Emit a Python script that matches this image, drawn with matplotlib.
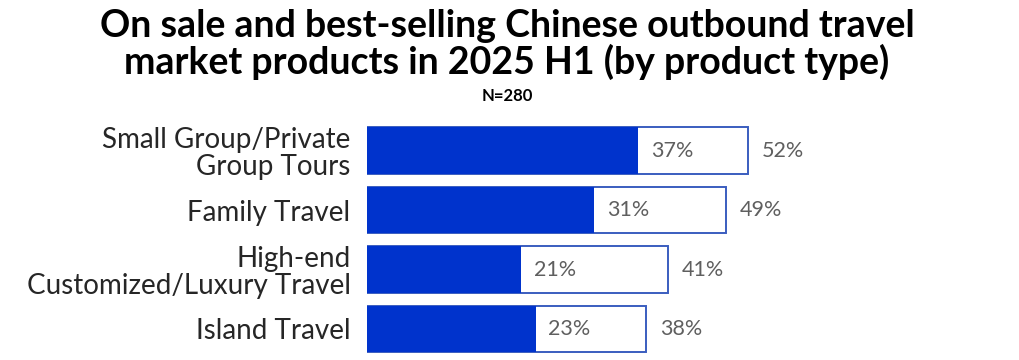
import matplotlib
matplotlib.use("Agg")
import matplotlib.pyplot as plt

categories = ["Small Group/Private\nGroup Tours", "Family Travel",
              "High-end\nCustomized/Luxury Travel", "Island Travel"]
on_sale = [52, 49, 41, 38]
best_selling = [37, 31, 21, 23]

plt.rcParams['font.family'] = ['Lato', 'DejaVu Sans']

fig = plt.figure(figsize=(10.2, 3.6), dpi=100)
ax = fig.add_axes([0.36, 0.0035, 0.61, 0.661])

y = list(range(len(categories)))
ax.barh(y, on_sale, height=0.78, color="white", edgecolor="#3A5DBF", linewidth=1.4)
ax.barh(y, best_selling, height=0.78, color="#0033CC", edgecolor="none")

for yi, s, b in zip(y, on_sale, best_selling):
    ax.text(b + 1.7, yi, f"{b}%", va="center", ha="left", fontsize=15.5, color="#5f5f5f")
    ax.text(s + 1.9, yi, f"{s}%", va="center", ha="left", fontsize=15.5, color="#5f5f5f")

ax.set_xlim(0, 84.9)
ax.set_ylim(len(categories) - 0.5, -0.5)
ax.set_yticks(y)
ax.set_yticklabels(categories, fontsize=20, color="#262626", linespacing=1.05)
ax.tick_params(axis="y", length=0, pad=12)
ax.set_xticks([])
for sp in ax.spines.values():
    sp.set_visible(False)

fig.text(0.497, 1 - 9 / 360, "On sale and best-selling Chinese outbound travel\nmarket products in 2025 H1 (by product type)",
         ha="center", va="top", fontsize=27, fontweight="bold", color="black", linespacing=1.03)
fig.text(0.497, 0.733, "N=280", ha="center", va="center", fontsize=12, fontweight="bold", color="black")

fig.savefig("out.png", dpi=100)
